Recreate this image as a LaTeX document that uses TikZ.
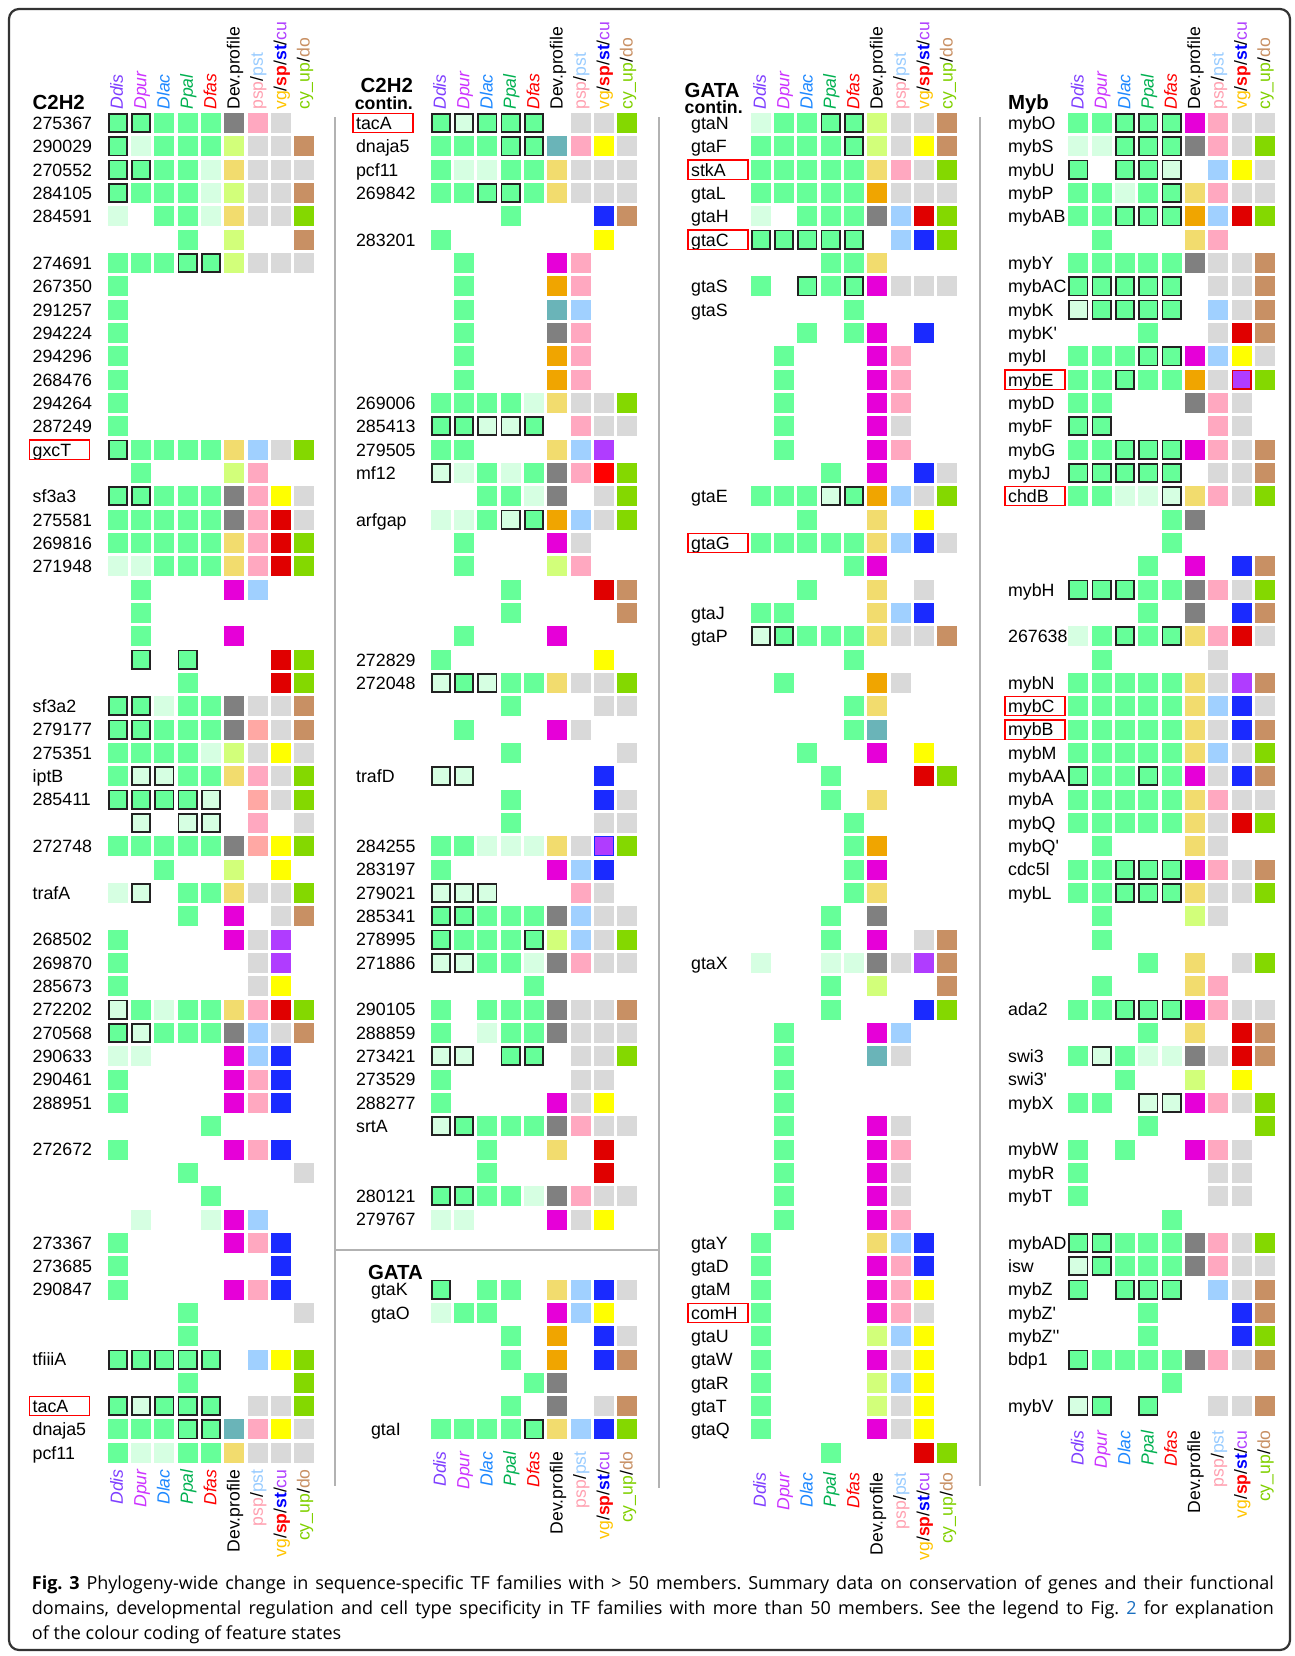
\documentclass[tikz,border=0pt]{standalone}
\usepackage{fontspec}
\setmainfont{Liberation Sans}
\newfontfamily\capfont{Open Sans}
\usetikzlibrary{positioning}

% cell fills
\definecolor{fG}{HTML}{66FF99}
\definecolor{fg}{HTML}{D6FFE2}
\definecolor{fk}{HTML}{808080}
\definecolor{fy}{HTML}{F2DC6E}
\definecolor{fl}{HTML}{D2FF7A}
\definecolor{fo}{HTML}{F0A500}
\definecolor{ft}{HTML}{6AB4B8}
\definecolor{fm}{HTML}{E600D8}
\definecolor{fp}{HTML}{FFA8C0}
\definecolor{fa}{HTML}{FFA8A4}
\definecolor{fs}{HTML}{A0D0FF}
\definecolor{fe}{HTML}{D9D9D9}
\definecolor{fY}{HTML}{FFFF00}
\definecolor{fR}{HTML}{E00000}
\definecolor{fX}{HTML}{FF0000}
\definecolor{fU}{HTML}{1A2AFF}
\definecolor{fP}{HTML}{B03CFF}
\definecolor{fC}{HTML}{84D800}
\definecolor{fn}{HTML}{C89064}
\definecolor{boxline}{HTML}{222222}
% header colours
\definecolor{hdDdis}{HTML}{7F3FFF}
\definecolor{hdDpur}{HTML}{CC33FF}
\definecolor{hdDlac}{HTML}{1E88FF}
\definecolor{hdPpal}{HTML}{00B050}
\definecolor{hdDfas}{HTML}{FF0000}
\definecolor{hdpsp}{HTML}{FFA0B0}
\definecolor{hdpst}{HTML}{99CCFF}
\definecolor{hdvg}{HTML}{FFC400}
\definecolor{hdsp}{HTML}{FF0000}
\definecolor{hdst}{HTML}{0000FF}
\definecolor{hdcu}{HTML}{B040FF}
\definecolor{hdcy}{HTML}{80D000}
\definecolor{hddo}{HTML}{C89064}
\definecolor{capblue}{HTML}{1A6FC0}
\definecolor{frameline}{HTML}{333333}

\newcommand{\pr}{\textquotesingle}

\newcommand{\hDdis}{\textcolor{hdDdis}{\itshape Ddis}}
\newcommand{\hDpur}{\textcolor{hdDpur}{\itshape Dpur}}
\newcommand{\hDlac}{\textcolor{hdDlac}{\itshape Dlac}}
\newcommand{\hPpal}{\textcolor{hdPpal}{\itshape Ppal}}
\newcommand{\hDfas}{\textcolor{hdDfas}{\itshape Dfas}}
\newcommand{\hDev}{Dev.profile}
\newcommand{\hpsp}{\textcolor{hdpsp}{psp}/\textcolor{hdpst}{pst}}
\newcommand{\hvg}{\textcolor{hdvg}{vg}/\textcolor{hdsp}{\bfseries sp}/\textcolor{hdst}{\bfseries st}/\textcolor{hdcu}{cu}}
\newcommand{\hcy}{\textcolor{hdcy}{cy\_up}/\textcolor{hddo}{do}}

% #1 tag, #2 x of first cell, #3 label x, #4 row, #5 label, #6 cell codes
\newcommand{\generow}[6]{%
  \if\relax\detokenize{#5}\relax\else
    \node[gene] (#1l#4) at (#3,{129.4+23.33*#4}) {#5};
  \fi
  \foreach \c [count=\i from 0] in {#6}{%
    \if\c.\else
      \node[cell,kind \c] (#1c#4x\i) at ({#2+23.33*\i},{123+23.33*#4}) {};
    \fi}%
}
% #1 tag, #2 label x, #3 row
\newcommand{\redmark}[3]{\node[redbox] (#1m#3) at ({#2-3.3},{123+23.33*#3}) {};}
% #1 tag, #2 x of first cell, #3 y, #4 anchor
\newcommand{\colheads}[4]{%
  \foreach \hd [count=\i from 0] in {\hDdis,\hDpur,\hDlac,\hPpal,\hDfas,\hDev,\hpsp,\hvg,\hcy}{%
    \node[colhead,anchor=#4] (#1h\i) at ({#2+23.33*\i},#3) {\hd};}%
}

\newcommand{\rowA}{\generow{A}{117.7}{32.3}}
\newcommand{\rowB}{\generow{B}{440.7}{355.7}}
\newcommand{\rowBg}{\generow{B}{440.7}{370.7}}
\newcommand{\rowC}{\generow{C}{760.7}{690.7}}
\newcommand{\rowD}{\generow{D}{1078.3}{1007.7}}

\begin{document}
\begin{tikzpicture}[x=0.5pt,y=-0.5pt,
    cell/.style={minimum size=10pt,inner sep=0pt,outer sep=0pt},
    kind G/.style={fill=fG}, kind g/.style={fill=fg},
    kind B/.style={fill=fG,draw=boxline,line width=0.9pt,minimum size=9.1pt},
    kind b/.style={fill=fg,draw=boxline,line width=0.9pt,minimum size=9.1pt},
    kind k/.style={fill=fk}, kind y/.style={fill=fy}, kind l/.style={fill=fl},
    kind o/.style={fill=fo}, kind t/.style={fill=ft}, kind m/.style={fill=fm},
    kind p/.style={fill=fp}, kind a/.style={fill=fa}, kind s/.style={fill=fs},
    kind e/.style={fill=fe}, kind Y/.style={fill=fY}, kind R/.style={fill=fR},
    kind X/.style={fill=fX}, kind U/.style={fill=fU}, kind P/.style={fill=fP},
    kind C/.style={fill=fC}, kind n/.style={fill=fn},
    kind Q/.style={fill=fP,draw=fU,line width=0.6pt,minimum size=9.4pt},
    kind W/.style={fill=fP,draw=fR,line width=0.6pt,minimum size=9.4pt},
    gene/.style={anchor=base west,inner sep=0pt,font=\fontsize{8.9}{10}\selectfont},
    colhead/.style={rotate=90,inner sep=0pt,font=\fontsize{8.8}{10}\selectfont},
    famtitle/.style={inner sep=0pt,font=\bfseries\fontsize{10.2}{12}\selectfont},
    famsub/.style={inner sep=0pt,font=\bfseries\fontsize{8.85}{10}\selectfont},
    redbox/.style={draw=red,line width=0.6pt,minimum width=30pt,minimum height=9.6pt,inner sep=0pt,anchor=west},
    divider/.style={draw=black!30,line width=1pt},
    capline/.style={anchor=base west,inner sep=0pt,font=\capfont\fontsize{9}{11}\selectfont\frenchspacing}
]
\useasboundingbox (0,0) rectangle (1295,1656);
\draw[frameline,line width=1.1pt,rounded corners=5pt] (9,9) rectangle (1290,1650);

% dividers
\draw[divider] (335,117) -- (335,1486);
\draw[divider] (659,117) -- (659,1488);
\draw[divider] (980,117) -- (980,1486);
\draw[divider] (335,1249.5) -- (659,1249.5);

% family titles
\node[famtitle,anchor=base west] (tA) at (32.3,109.5) {C2H2};
\node[famtitle,anchor=base east] (tB) at (413.3,92.3) {C2H2};
\node[famsub,anchor=base east] (tB2) at (413.3,109.5) {contin.};
\node[famtitle,anchor=base west] (tC) at (684.3,97) {GATA};
\node[famsub,anchor=base west] (tC2) at (684.3,113.6) {contin.};
\node[famtitle,anchor=base west] (tD) at (1007.7,109.5) {Myb};
\node[famtitle,anchor=base west] (tBg) at (367.7,1279) {GATA};

% column heads
\colheads{At}{117.7}{110}{mid west}
\colheads{Bt}{440.7}{110}{mid west}
\colheads{Ct}{760.7}{110}{mid west}
\colheads{Dt}{1078.3}{110}{mid west}
\colheads{Ab}{117.7}{1469}{mid east}
\colheads{Bb}{440.7}{1451}{mid east}
\colheads{Cb}{760.7}{1472}{mid east}
\colheads{Db}{1078.3}{1430}{mid east}

% C2H2
\rowA{0}{275367}{B,B,G,G,G,k,p,e,.}
\rowA{1}{290029}{B,g,G,G,G,l,e,e,n}
\rowA{2}{270552}{B,B,G,G,g,y,e,e,e}
\rowA{3}{284105}{B,G,G,G,g,l,e,e,n}
\rowA{4}{284591}{g,.,G,G,g,y,e,e,C}
\rowA{5}{}{.,.,.,G,.,l,.,.,n}
\rowA{6}{274691}{G,G,G,B,B,l,e,e,e}
\rowA{7}{267350}{G,.,.,.,.,.,.,.,.}
\rowA{8}{291257}{G,.,.,.,.,.,.,.,.}
\rowA{9}{294224}{G,.,.,.,.,.,.,.,.}
\rowA{10}{294296}{G,.,.,.,.,.,.,.,.}
\rowA{11}{268476}{G,.,.,.,.,.,.,.,.}
\rowA{12}{294264}{G,.,.,.,.,.,.,.,.}
\rowA{13}{287249}{G,.,.,.,.,.,.,.,.}
\rowA{14}{gxcT}{B,G,G,G,G,y,s,e,C}
\rowA{15}{}{.,G,.,.,.,l,p,.,.}
\rowA{16}{sf3a3}{B,B,G,G,G,k,p,Y,e}
\rowA{17}{275581}{G,G,G,G,G,k,p,R,e}
\rowA{18}{269816}{G,G,G,G,G,y,p,R,C}
\rowA{19}{271948}{g,g,G,G,G,y,p,R,C}
\rowA{20}{}{.,G,.,.,.,m,s,.,.}
\rowA{21}{}{.,G,.,.,.,.,.,.,.}
\rowA{22}{}{.,G,.,.,.,m,.,.,.}
\rowA{23}{}{.,B,.,B,.,.,.,R,C}
\rowA{24}{}{.,.,.,G,.,.,.,R,C}
\rowA{25}{sf3a2}{B,B,g,G,G,k,e,e,n}
\rowA{26}{279177}{B,B,G,G,G,k,a,e,n}
\rowA{27}{275351}{G,G,G,G,g,l,e,Y,e}
\rowA{28}{iptB}{G,b,b,G,G,y,p,e,C}
\rowA{29}{285411}{B,B,B,B,b,.,a,e,C}
\rowA{30}{}{.,b,.,b,b,.,p,.,e}
\rowA{31}{272748}{G,G,G,G,G,k,a,Y,C}
\rowA{32}{}{.,.,G,.,.,l,.,Y,.}
\rowA{33}{trafA}{g,b,.,G,G,y,e,e,C}
\rowA{34}{}{.,.,.,G,.,m,.,e,n}
\rowA{35}{268502}{G,.,.,.,.,m,e,P,.}
\rowA{36}{269870}{G,.,.,.,.,.,e,P,.}
\rowA{37}{285673}{G,.,.,.,.,.,e,Y,.}
\rowA{38}{272202}{b,G,g,G,G,y,p,R,C}
\rowA{39}{270568}{B,b,G,G,G,k,s,e,n}
\rowA{40}{290633}{g,g,.,.,.,m,s,U,.}
\rowA{41}{290461}{G,.,.,.,.,m,p,U,.}
\rowA{42}{288951}{G,.,.,.,.,m,p,U,.}
\rowA{43}{}{.,.,.,.,G,.,.,.,.}
\rowA{44}{272672}{G,.,.,.,.,m,p,U,.}
\rowA{45}{}{.,.,.,G,.,.,.,.,e}
\rowA{46}{}{.,.,.,.,G,.,.,.,.}
\rowA{47}{}{.,g,.,.,g,m,s,.,.}
\rowA{48}{273367}{G,.,.,.,.,m,p,U,.}
\rowA{49}{273685}{G,.,.,.,.,.,.,U,.}
\rowA{50}{290847}{G,.,.,.,.,m,p,U,.}
\rowA{51}{}{.,.,.,G,.,.,.,.,e}
\rowA{52}{}{.,.,.,G,.,.,.,.,.}
\rowA{53}{tfiiiA}{B,B,B,B,B,.,s,Y,C}
\rowA{54}{}{.,.,.,G,.,.,.,.,C}
\rowA{55}{tacA}{B,b,B,B,B,.,e,e,C}
\rowA{56}{dnaja5}{G,G,G,B,B,t,p,Y,e}
\rowA{57}{pcf11}{G,g,g,G,G,y,e,e,e}
\redmark{A}{32.3}{14}
\redmark{A}{32.3}{55}

% C2H2 contin.
\rowB{0}{tacA}{B,b,B,B,B,.,e,e,C}
\rowB{1}{dnaja5}{G,G,G,B,B,t,p,Y,e}
\rowB{2}{pcf11}{G,g,g,G,G,y,e,e,e}
\rowB{3}{269842}{G,G,B,B,G,y,e,e,e}
\rowB{4}{}{.,.,.,G,.,.,.,U,n}
\rowB{5}{283201}{G,.,.,.,.,.,.,Y,.}
\rowB{6}{}{.,G,.,.,.,m,p,.,.}
\rowB{7}{}{.,G,.,.,.,o,p,.,.}
\rowB{8}{}{.,G,.,.,.,t,s,.,.}
\rowB{9}{}{.,G,.,.,.,k,p,.,.}
\rowB{10}{}{.,G,.,.,.,o,p,.,.}
\rowB{11}{}{.,G,.,.,.,o,p,.,.}
\rowB{12}{269006}{G,G,G,G,g,y,e,e,C}
\rowB{13}{285413}{B,B,b,b,B,.,p,e,e}
\rowB{14}{279505}{G,G,.,.,.,y,s,P,.}
\rowB{15}{mf12}{b,g,G,g,G,k,p,X,C}
\rowB{16}{}{.,.,G,G,g,k,.,e,C}
\rowB{17}{arfgap}{g,g,G,b,B,o,s,e,C}
\rowB{18}{}{.,G,.,.,.,m,e,.,.}
\rowB{19}{}{.,G,.,.,.,l,p,.,.}
\rowB{20}{}{.,.,.,G,.,.,.,R,n}
\rowB{21}{}{.,.,.,G,.,.,.,.,n}
\rowB{22}{}{.,G,.,.,.,m,.,.,.}
\rowB{23}{272829}{G,.,.,.,.,.,.,Y,.}
\rowB{24}{272048}{b,B,b,G,G,y,e,e,C}
\rowB{25}{}{.,.,.,G,.,.,.,e,e}
\rowB{26}{}{.,G,.,.,.,m,e,.,.}
\rowB{27}{}{.,.,.,G,.,.,.,.,e}
\rowB{28}{trafD}{b,b,.,.,.,.,.,U,.}
\rowB{29}{}{.,.,.,G,.,.,.,U,e}
\rowB{30}{}{.,.,.,G,.,.,.,e,e}
\rowB{31}{284255}{G,G,g,g,g,y,e,Q,C}
\rowB{32}{283197}{G,.,.,.,.,m,s,U,.}
\rowB{33}{279021}{b,b,b,.,.,.,p,e,.}
\rowB{34}{285341}{B,B,G,G,G,k,s,e,e}
\rowB{35}{278995}{B,G,G,G,B,l,s,e,C}
\rowB{36}{271886}{b,b,G,G,g,k,p,e,e}
\rowB{37}{}{.,.,.,.,G,.,.,.,.}
\rowB{38}{290105}{G,.,G,G,G,k,e,e,n}
\rowB{39}{288859}{G,.,g,G,G,k,e,e,e}
\rowB{40}{273421}{b,b,.,B,B,.,e,e,C}
\rowB{41}{273529}{G,.,.,.,.,.,e,e,.}
\rowB{42}{288277}{G,.,.,.,.,m,e,Y,.}
\rowB{43}{srtA}{b,B,G,G,G,k,p,e,e}
\rowB{44}{}{.,.,G,.,.,y,.,R,.}
\rowB{45}{}{.,.,G,.,.,.,.,R,.}
\rowB{46}{280121}{B,B,G,G,g,k,p,e,e}
\rowB{47}{279767}{g,g,.,.,.,m,e,Y,.}
\redmark{B}{355.7}{0}
% GATA
\rowBg{50}{gtaK}{B,.,G,G,.,y,s,U,e}
\rowBg{51}{gtaO}{g,G,G,.,.,m,s,Y,.}
\rowBg{52}{}{.,.,.,G,.,o,.,U,e}
\rowBg{53}{}{.,.,.,G,.,o,.,U,n}
\rowBg{54}{}{.,.,.,.,G,k,.,.,.}
\rowBg{55}{}{.,.,.,G,.,k,.,e,n}
\rowBg{56}{gtaI}{G,G,G,G,B,y,s,U,C}

% GATA contin.
\rowC{0}{gtaN}{g,G,G,B,B,l,e,e,n}
\rowC{1}{gtaF}{G,G,G,G,B,l,e,Y,n}
\rowC{2}{stkA}{G,G,G,G,G,y,p,e,C}
\rowC{3}{gtaL}{G,G,G,G,G,o,e,e,e}
\rowC{4}{gtaH}{g,.,G,G,G,k,s,R,C}
\rowC{5}{gtaC}{B,B,B,B,B,.,s,U,C}
\rowC{6}{}{.,.,.,G,G,y,.,.,.}
\rowC{7}{gtaS}{G,.,B,G,B,m,e,e,e}
\rowC{8}{gtaS}{.,.,.,.,G,.,.,.,.}
\rowC{9}{}{.,.,G,.,G,m,.,U,.}
\rowC{10}{}{.,G,.,.,.,m,p,.,.}
\rowC{11}{}{.,G,.,.,.,m,p,.,.}
\rowC{12}{}{.,G,.,.,.,m,p,.,.}
\rowC{13}{}{.,G,.,.,.,m,e,.,.}
\rowC{14}{}{.,G,.,.,.,m,p,.,.}
\rowC{15}{}{.,.,.,G,.,m,.,U,e}
\rowC{16}{gtaE}{G,G,G,b,B,o,s,e,C}
\rowC{17}{}{.,.,G,.,.,y,.,Y,.}
\rowC{18}{gtaG}{G,G,G,G,G,y,s,U,e}
\rowC{19}{}{.,.,.,.,G,m,.,.,.}
\rowC{20}{}{.,.,G,.,.,y,.,e,.}
\rowC{21}{gtaJ}{G,G,.,.,.,y,s,U,.}
\rowC{22}{gtaP}{b,B,G,G,G,y,e,e,n}
\rowC{23}{}{.,.,.,.,G,.,.,.,.}
\rowC{24}{}{.,G,.,.,.,o,e,.,.}
\rowC{25}{}{.,.,.,.,G,y,.,.,.}
\rowC{26}{}{.,.,.,.,G,t,.,.,.}
\rowC{27}{}{.,.,G,.,.,m,.,Y,.}
\rowC{28}{}{.,.,.,G,.,.,.,R,C}
\rowC{29}{}{.,.,.,G,.,y,.,.,.}
\rowC{30}{}{.,.,.,.,G,.,.,.,.}
\rowC{31}{}{.,.,.,.,G,o,.,.,.}
\rowC{32}{}{.,.,.,.,G,m,.,.,.}
\rowC{33}{}{.,.,.,.,G,y,.,.,.}
\rowC{34}{}{.,.,.,G,.,k,.,.,.}
\rowC{35}{}{.,.,.,G,.,m,.,e,n}
\rowC{36}{gtaX}{g,.,.,g,g,k,e,P,n}
\rowC{37}{}{.,.,.,G,.,l,.,.,n}
\rowC{38}{}{.,.,.,G,.,.,.,U,C}
\rowC{39}{}{.,G,.,.,.,m,s,.,.}
\rowC{40}{}{.,G,.,.,.,t,e,.,.}
\rowC{41}{}{.,G,.,.,.,.,.,.,.}
\rowC{42}{}{.,G,.,.,.,.,.,.,.}
\rowC{43}{}{.,G,.,.,.,m,e,.,.}
\rowC{44}{}{.,G,.,.,.,m,p,.,.}
\rowC{45}{}{.,G,.,.,.,m,e,.,.}
\rowC{46}{}{.,G,.,.,.,m,e,.,.}
\rowC{47}{}{.,G,.,.,.,m,p,.,.}
\rowC{48}{gtaY}{G,.,.,.,.,y,s,U,.}
\rowC{49}{gtaD}{G,.,.,.,.,m,p,U,.}
\rowC{50}{gtaM}{G,.,.,.,.,m,p,Y,.}
\rowC{51}{comH}{G,.,.,.,.,m,p,e,.}
\rowC{52}{gtaU}{G,.,.,.,.,l,s,Y,.}
\rowC{53}{gtaW}{G,.,.,.,.,m,e,Y,.}
\rowC{54}{gtaR}{G,.,.,.,.,l,s,Y,.}
\rowC{55}{gtaT}{G,.,.,.,.,l,e,Y,.}
\rowC{56}{gtaQ}{G,.,.,.,.,m,e,Y,.}
\rowC{57}{}{.,.,.,G,.,.,.,R,C}
\redmark{C}{690.7}{2}
\redmark{C}{690.7}{5}
\redmark{C}{690.7}{18}
\redmark{C}{690.7}{51}

% Myb
\rowD{0}{mybO}{G,G,B,B,B,m,p,e,e}
\rowD{1}{mybS}{g,g,B,B,B,k,p,e,C}
\rowD{2}{mybU}{B,.,B,B,b,.,s,Y,e}
\rowD{3}{mybP}{G,G,g,G,B,y,p,e,e}
\rowD{4}{mybAB}{G,G,B,B,B,o,s,R,C}
\rowD{5}{}{.,G,.,.,.,y,p,.,.}
\rowD{6}{mybY}{G,G,G,G,G,k,e,e,n}
\rowD{7}{mybAC}{B,B,B,B,B,.,e,e,n}
\rowD{8}{mybK}{b,B,B,B,B,.,s,e,n}
\rowD{9}{mybK\pr}{.,.,.,G,.,.,e,R,n}
\rowD{10}{mybI}{G,G,G,B,B,m,s,Y,e}
\rowD{11}{mybE}{G,G,B,G,G,o,e,W,C}
\rowD{12}{mybD}{G,G,.,.,.,k,p,e,.}
\rowD{13}{mybF}{B,B,.,.,.,.,p,e,.}
\rowD{14}{mybG}{G,G,B,B,B,m,p,e,n}
\rowD{15}{mybJ}{B,B,B,B,B,.,e,e,n}
\rowD{16}{chdB}{G,G,g,g,b,y,p,e,C}
\rowD{17}{}{.,.,.,.,G,k,.,.,.}
\rowD{18}{}{.,.,.,.,G,.,.,.,.}
\rowD{19}{}{.,.,.,G,.,m,.,U,n}
\rowD{20}{mybH}{B,B,B,G,G,k,p,e,C}
\rowD{21}{}{.,.,.,G,.,k,.,U,n}
\rowD{22}{267638}{g,G,B,G,B,y,p,R,e}
\rowD{23}{}{.,G,.,.,.,.,e,.,.}
\rowD{24}{mybN}{G,G,G,G,G,y,e,P,n}
\rowD{25}{mybC}{G,G,G,G,G,y,s,U,e}
\rowD{26}{mybB}{G,G,G,G,G,y,e,U,n}
\rowD{27}{mybM}{G,G,G,G,G,y,s,e,C}
\rowD{28}{mybAA}{B,G,G,B,G,m,e,U,n}
\rowD{29}{mybA}{G,G,G,G,G,y,p,e,e}
\rowD{30}{mybQ}{G,G,G,G,G,y,e,R,C}
\rowD{31}{mybQ\pr}{.,G,.,.,.,y,e,.,.}
\rowD{32}{cdc5l}{G,G,B,B,B,m,p,e,n}
\rowD{33}{mybL}{G,G,B,B,B,y,e,e,C}
\rowD{34}{}{.,G,.,.,.,l,e,.,.}
\rowD{35}{}{.,G,.,.,.,.,.,.,.}
\rowD{36}{}{.,.,.,G,.,y,.,e,C}
\rowD{37}{}{.,G,.,.,.,y,p,.,.}
\rowD{38}{ada2}{G,G,B,B,B,m,p,e,e}
\rowD{39}{}{.,.,.,G,.,y,.,R,n}
\rowD{40}{swi3}{G,b,G,g,g,k,e,R,n}
\rowD{41}{swi3\pr}{.,.,G,.,.,l,.,Y,.}
\rowD{42}{mybX}{G,G,.,b,b,m,p,e,C}
\rowD{43}{}{.,.,.,G,.,.,.,.,C}
\rowD{44}{mybW}{G,.,G,.,.,m,p,e,.}
\rowD{45}{mybR}{G,.,.,.,.,.,e,e,.}
\rowD{46}{mybT}{G,.,.,.,.,.,e,e,.}
\rowD{47}{}{.,.,.,.,G,.,.,.,.}
\rowD{48}{mybAD}{B,B,G,G,G,k,p,e,C}
\rowD{49}{isw}{b,B,G,G,G,k,p,e,e}
\rowD{50}{mybZ}{B,.,B,B,B,.,s,e,n}
\rowD{51}{mybZ\pr}{.,.,.,G,.,.,.,U,n}
\rowD{52}{mybZ\pr\pr}{.,.,.,G,.,.,.,U,C}
\rowD{53}{bdp1}{B,G,G,G,G,k,p,e,n}
\rowD{54}{}{.,.,.,.,G,.,.,.,.}
\rowD{55}{mybV}{b,B,.,B,.,.,e,e,n}
\redmark{D}{1007.7}{11}
\redmark{D}{1007.7}{16}
\redmark{D}{1007.7}{25}
\redmark{D}{1007.7}{26}

% caption
\node[capline] (cap1) at (31.5,1589) {\makebox[621pt][s]{\textbf{Fig. 3} Phylogeny-wide change in sequence-specific TF families with > 50 members. Summary data on conservation of genes and their functional}};
\node[capline] (cap2) at (31.5,1614) {\makebox[621pt][s]{domains, developmental regulation and cell type specificity in TF families with more than 50 members. See the legend to Fig. \textcolor{capblue}{2} for explanation}};
\node[capline] (cap3) at (31.5,1639) {of the colour coding of feature states};
\end{tikzpicture}
\end{document}
